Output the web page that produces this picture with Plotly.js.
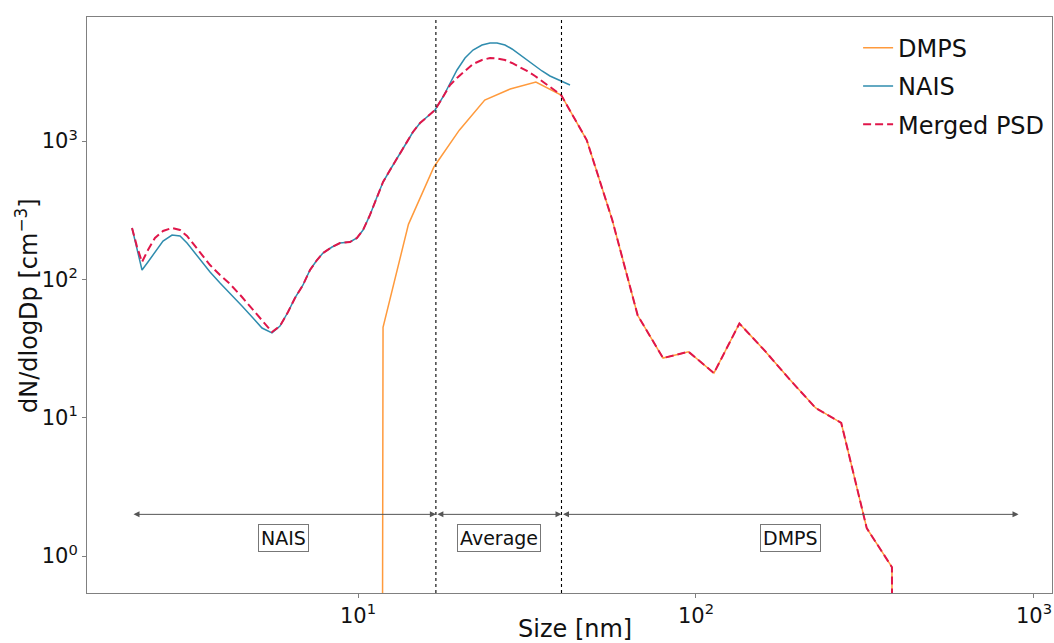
<!DOCTYPE html>
<html>
<head>
<meta charset="utf-8">
<script src="https://cdn.plot.ly/plotly-3.0.1.min.js"></script>
<style>html,body{margin:0;padding:0;background:#fff;}#chart{width:1054px;height:643px;}</style>
</head>
<body>
<div id="chart"></div>
<script>
// ---- data ----
const naisDp = [2.145, 2.220, 2.296, 2.391, 2.508, 2.649, 2.817, 2.975, 3.120, 3.362, 3.649, 3.906, 4.182, 4.537, 4.890, 5.200, 5.566,
  5.877, 6.207, 6.510, 6.875, 7.211, 7.563, 7.877, 8.379, 8.846, 9.469, 9.93, 10.35, 10.85, 11.38, 11.86, 12.44, 13.05, 13.77,
  14.54, 15.26, 16.00, 16.90, 17.84, 18.72, 19.63, 20.73, 21.89, 23.27, 24.58, 25.78, 27.22, 28.55, 30.16, 31.62, 33.40,
  35.03, 36.98, 38.79, 40.42, 42.39];
const naisDn = [235.3, 163.2, 117.0, 133.6, 157.8, 189.5, 209.4, 206.0, 183.3, 145.2, 113.1, 94.2, 79.7, 64.2, 52.6, 44.5, 41.0,
  46.0, 58.1, 73.4, 91.1, 117.0, 138.1, 155.2, 171.5, 183.3, 186.4, 199.3, 227.6, 292.3, 394.3, 506.1, 618.1, 754.8, 937.1,
  1163.5, 1351.6, 1494, 1678, 2084, 2588, 3267, 3990, 4557, 4954, 5120, 5120, 4954, 4634, 4194, 3858, 3491,
  3213, 2956, 2812, 2675, 2544];

const dmpsDp = [10.0, 11.86, 14.10, 16.77, 19.94, 23.71, 28.2, 33.6, 39.9, 47.5, 56.5, 67.2, 79.9, 95.0, 113, 134.4, 160, 190, 226, 269, 320, 380, 453];
const dmpsDn = [1e-100, 45, 250, 650, 1200, 1980, 2380, 2675, 2155, 1018, 270, 55, 27, 30, 21, 48, 30.4, 18.7, 11.75, 9.16, 1.59, 0.83, 1e-100];

const mergedDp = [2.145, 2.220, 2.296, 2.391, 2.508, 2.649, 2.817, 2.975, 3.120, 3.362, 3.649, 3.906, 4.182, 4.537, 4.890, 5.200, 5.566,
  5.877, 6.207, 6.510, 6.875, 7.211, 7.563, 7.877, 8.379, 8.846, 9.469, 9.93, 10.35, 10.85, 11.38, 11.86, 12.44, 13.05, 13.77,
  14.54, 15.26, 16.00, 16.90, 17.84, 18.72, 19.63, 20.73, 21.89, 23.27, 24.58, 25.78, 27.22, 28.55, 30.16, 31.62, 33.40,
  35.03, 36.98, 38.79, 39.9, 47.5, 56.5, 67.2, 79.9, 95.0, 113, 134.4, 160, 190, 226, 269, 320, 380, 453];
const mergedDn = [235.3, 171.5, 133.6, 163.2, 199.3, 223.9, 235.3, 227.6, 206.0, 163.2, 127.1, 107.6, 92.6, 74.6, 60.1, 50.0, 41.7,
  46.0, 58.1, 73.4, 91.1, 117.0, 138.1, 155.2, 171.5, 183.3, 186.4, 199.3, 227.6, 292.3, 394.3, 506.1, 618.1, 754.8, 937.1,
  1163.5, 1351.6, 1494, 1678, 2084, 2544, 2860, 3213, 3610, 3858, 3990, 3957, 3858, 3671, 3434, 3213, 2956,
  2720, 2462, 2265, 2155, 1018, 270, 55, 27, 30, 21, 48, 30.4, 18.7, 11.75, 9.16, 1.59, 0.83, 1e-100];

// merging region limits and instrument ranges (nm)
const mergeLimits = [17, 40];
const rangeArrowY = 2;
const rangeLabelY = 1.35;
const rangeEnds = [2.145, 17, 40, 900];
const rangeLabels = ['NAIS', 'Average', 'DMPS'];

const xTitle = 'Size [nm]';
const yTitle = 'dN/dlogDp [cm<sup>\u22123</sup>]';
const xTickVals = [10, 100, 1000];
const xTickText = ['10<sup>1</sup>', '10<sup>2</sup>', '10<sup>3</sup>'];
const yTickVals = [1, 10, 100, 1000];
const yTickText = ['10<sup>0</sup>', '10<sup>1</sup>', '10<sup>2</sup>', '10<sup>3</sup>'];

// ---- figure ----
const FONT = 'DejaVu Sans, sans-serif';
const traces = [
  {x: dmpsDp, y: dmpsDn, name: 'DMPS', mode: 'lines', legendgroup: 'a',
   line: {color: '#ff9a3c', width: 1.5}},
  {x: naisDp, y: naisDn, name: 'NAIS', mode: 'lines', legendgroup: 'b',
   line: {color: '#2f8cae', width: 1.5}},
  {x: mergedDp, y: mergedDn, name: 'Merged PSD', mode: 'lines', legendgroup: 'c',
   line: {color: '#e0164a', width: 2, dash: '8px,4px'}}
];

const shapes = mergeLimits.map(v => ({
  type: 'line', xref: 'x', yref: 'paper', x0: v, x1: v, y0: 0, y1: 1,
  line: {color: '#000', width: 1.1, dash: 'dot'}
}));

const annotations = [];
for (let i = 0; i < rangeLabels.length; i++) {
  const a = rangeEnds[i], b = rangeEnds[i + 1];
  annotations.push({
    xref: 'x', yref: 'y', axref: 'x', ayref: 'y',
    x: Math.log10(b), y: Math.log10(rangeArrowY),
    ax: Math.log10(a), ay: Math.log10(rangeArrowY),
    text: '', showarrow: true, arrowside: 'end+start', arrowhead: 2,
    arrowsize: 1.2, arrowwidth: 1, arrowcolor: '#555', standoff: 0, startstandoff: 0
  });
  annotations.push({
    xref: 'x', yref: 'y',
    x: (Math.log10(a) + Math.log10(b)) / 2, y: Math.log10(rangeLabelY),
    text: rangeLabels[i], showarrow: false,
    font: {family: FONT, size: 19, color: '#111'},
    bgcolor: '#fff', bordercolor: '#777', borderwidth: 1, borderpad: 2
  });
}
// axis titles placed as paper annotations for exact positioning
annotations.push({xref: 'paper', yref: 'paper', x: 0.5057, y: -0.0625, xanchor: 'center', yanchor: 'middle',
  text: xTitle, showarrow: false, font: {family: FONT, size: 24, color: '#111'}});
annotations.push({xref: 'paper', yref: 'paper', x: -0.0622, y: 0.5, xanchor: 'center', yanchor: 'middle',
  textangle: -90, text: yTitle, showarrow: false, font: {family: FONT, size: 24, color: '#111'}});

const layout = {
  width: 1054, height: 643,
  margin: {l: 87, r: 2, t: 17, b: 50},
  paper_bgcolor: '#fff', plot_bgcolor: '#fff',
  font: {family: FONT, size: 22, color: '#111'},
  showlegend: true,
  legend: {x: 0.997, xanchor: 'right', y: 0.985, yanchor: 'top',
           font: {family: FONT, size: 24, color: '#111'},
           bgcolor: 'rgba(255,255,255,0.8)', bordercolor: 'rgba(0,0,0,0)', borderwidth: 0,
           tracegroupgap: 4},
  xaxis: {type: 'log', range: [0.1982, 3.0533], showgrid: false, zeroline: false,
          showline: true, mirror: true, linecolor: '#808080', linewidth: 1,
          ticks: 'outside', ticklen: 4, tickcolor: '#808080',
          tickvals: xTickVals, ticktext: xTickText, tickfont: {family: FONT, size: 21, color: '#111'},
          automargin: false},
  yaxis: {type: 'log', range: [-0.2675, 3.8973], showgrid: false, zeroline: false,
          showline: true, mirror: true, linecolor: '#808080', linewidth: 1,
          ticks: 'outside', ticklen: 4, tickcolor: '#808080',
          tickvals: yTickVals, ticktext: yTickText, tickfont: {family: FONT, size: 21, color: '#111'},
          automargin: false},
  shapes: shapes,
  annotations: annotations
};

Plotly.newPlot('chart', traces, layout, {displayModeBar: false, staticPlot: true});
</script>
</body>
</html>
